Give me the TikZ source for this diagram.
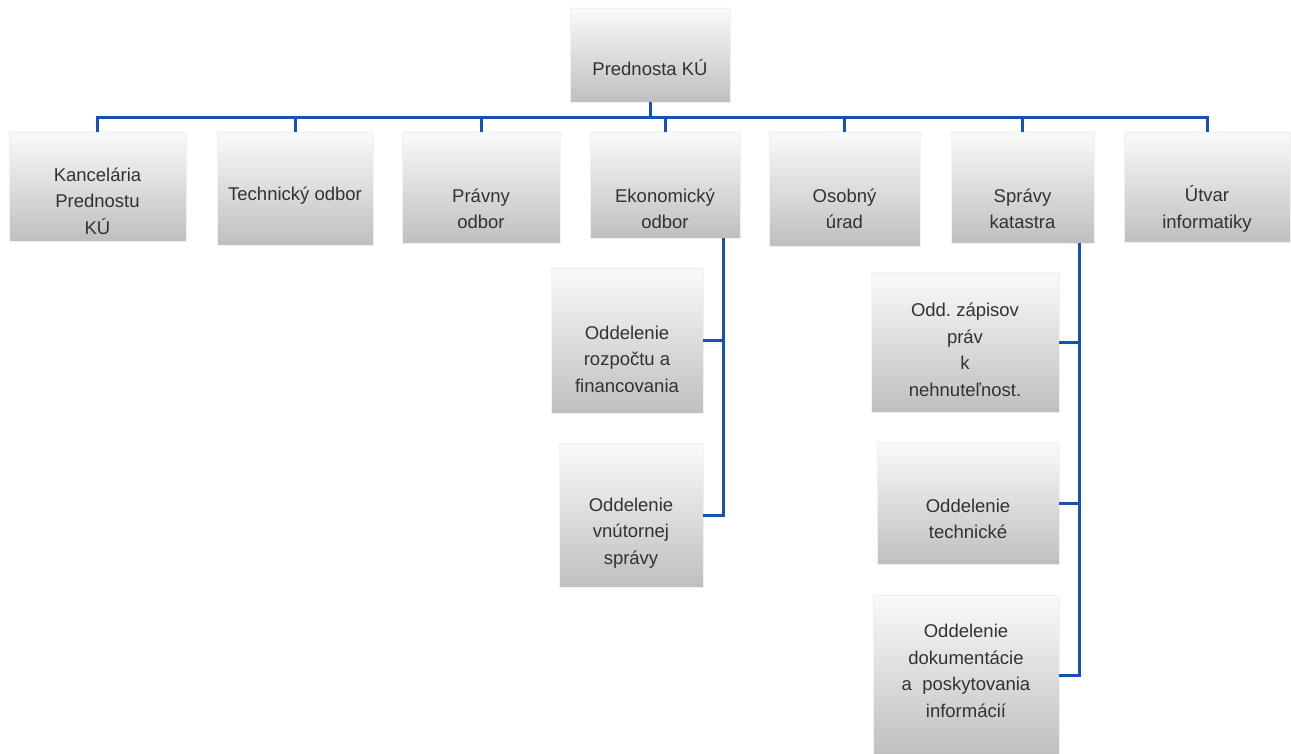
\documentclass[tikz,border=0pt]{standalone}
\usepackage{fontspec}
\setmainfont{Liberation Sans}
\usepackage{xcolor}
\usetikzlibrary{calc}
\frenchspacing

\definecolor{linkblue}{RGB}{22,82,180}
\definecolor{textgray}{RGB}{50,50,50}

\tikzset{
	unit/.style 2 args={rectangle, draw=gray!12, line width=0.8pt,
		top color=gray!4, bottom color=gray!50,
		inner sep=0pt, minimum width=#1, minimum height=#2},
	caption/.style={align=center, text=textgray, inner sep=0pt,
		font=\fontsize{18.5}{26.5}\selectfont},
	link/.style={draw=linkblue, line width=3pt}
}

\begin{document}
\begin{tikzpicture}[x=1pt, y=-1pt]
			\useasboundingbox (0,0) rectangle (1291,754);

			% boxes
			\node[unit={160pt}{94pt}] (prednosta) at (650,55) {};
			\node[unit={177pt}{109pt}] (kancelaria) at (97.5,186.5) {};
			\node[unit={156pt}{113pt}] (technicky) at (295,188.5) {};
			\node[unit={158pt}{111pt}] (pravny) at (481,187.5) {};
			\node[unit={150pt}{106pt}] (ekonomicky) at (665,185) {};
			\node[unit={151pt}{114pt}] (osobny) at (844.5,189) {};
			\node[unit={143pt}{111pt}] (spravy) at (1022.5,187.5) {};
			\node[unit={166pt}{110pt}] (utvar) at (1207,187) {};

			\node[unit={152pt}{145pt}] (rozpocet) at (627,340.5) {};
			\node[unit={144pt}{144pt}] (vnutorna) at (631,515) {};

			\node[unit={188pt}{139pt}] (zapisy) at (965,342.5) {};
			\node[unit={182pt}{122pt}] (technicke) at (968,503) {};
			\node[unit={186pt}{161pt}] (dokumentacia) at (966,675.5) {};

			% texts
			\node[caption] (prednostaT) at (650,68) {Prednosta KÚ};
			\node[caption] (kancelariaT) at (97.5,201) {Kancelária\\Prednostu\\KÚ};
			\node[caption] (technickyT) at (295,196) {Technický odbor};
			\node[caption] (pravnyT) at (481,209) {Právny\\odbor};
			\node[caption] (ekonomickyT) at (665,209) {Ekonomický\\odbor};
			\node[caption] (osobnyT) at (844.5,209) {Osobný\\úrad};
			\node[caption] (spravyT) at (1022.5,209) {Správy\\katastra};
			\node[caption] (utvarT) at (1207,209) {Útvar\\informatiky};
			\node[caption] (rozpocetT) at (627,359) {Oddelenie\\rozpočtu a\\financovania};
			\node[caption] (vnutornaT) at (631,533) {Oddelenie\\vnútornej\\správy};
			\node[caption] (zapisyT) at (965,350) {Odd. zápisov\\práv\\k\\nehnuteľnost.};
			\node[caption] (technickeT) at (968,519) {Oddelenie\\technické};
			\node[caption] (dokumentaciaT) at (966,671) {Oddelenie\\dokumentácie\\a\ \ poskytovania\\informácií};

			% connectors
			\coordinate (bus) at ($(prednosta.south)+(0,15)$);
			\foreach \n in {kancelaria,technicky,pravny,ekonomicky,osobny,spravy,utvar}
			{
				\draw[link] (prednosta.south) -- (bus) -| (\n.north);
			}

			\coordinate (ekonomickyV) at ($(ekonomicky.south east)+(-17,0)$);
			\foreach \n in {rozpocet,vnutorna}
			{
				\draw[link] (ekonomickyV) |- (\n.east);
			}

			\coordinate (spravyV) at ($(spravy.south east)+(-15,0)$);
			\foreach \n in {zapisy,technicke,dokumentacia}
			{
				\draw[link] (spravyV) |- (\n.east);
			}
		\end{tikzpicture}
\end{document}
